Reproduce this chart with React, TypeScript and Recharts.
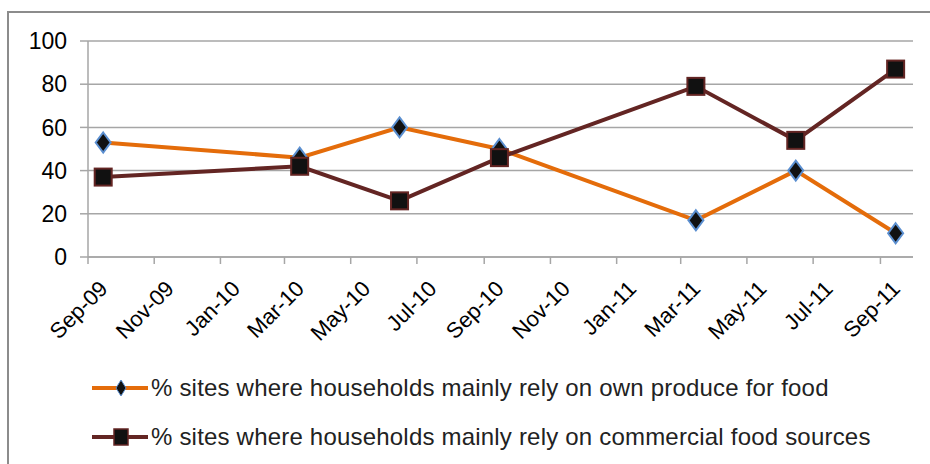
import { CartesianGrid, Line, LineChart, XAxis, YAxis } from "recharts"

// survey rounds (mid-month) and tick months
const surveyDates = [
  "2009-09-15",
  "2010-03-15",
  "2010-06-15",
  "2010-09-15",
  "2011-03-15",
  "2011-06-15",
  "2011-09-15",
]
const ownProduce = [53, 46, 60, 50, 17, 40, 11]
const commercial = [37, 42, 26, 46, 79, 54, 87]

const tickDates = [
  "2009-09-01",
  "2009-11-01",
  "2010-01-01",
  "2010-03-01",
  "2010-05-01",
  "2010-07-01",
  "2010-09-01",
  "2010-11-01",
  "2011-01-01",
  "2011-03-01",
  "2011-05-01",
  "2011-07-01",
  "2011-09-01",
]
const tickLabels = [
  "Sep-09",
  "Nov-09",
  "Jan-10",
  "Mar-10",
  "May-10",
  "Jul-10",
  "Sep-10",
  "Nov-10",
  "Jan-11",
  "Mar-11",
  "May-11",
  "Jul-11",
  "Sep-11",
]
const yTicks = [0, 20, 40, 60, 80, 100]
const domainStart = "2009-09-01"
const domainEnd = "2011-10-01"

const ownLabel = "% sites where households mainly rely on own produce for food"
const commLabel = "% sites where households mainly rely on commercial food sources"

const ORANGE = "#E46C0A"
const BROWN = "#632523"
const GRID = "#a6a6a6"
const AXIS_FONT = "'Liberation Sans', Arial, sans-serif"

const data = surveyDates.map((d, i) => ({
  t: Date.parse(d),
  own: ownProduce[i],
  comm: commercial[i],
}))
const xTicks = tickDates.map((d) => Date.parse(d))
const labelFor = new Map(xTicks.map((t, i) => [t, tickLabels[i]]))

function Diamond({ cx, cy }: any) {
  if (cx == null || cy == null) return null
  return (
    <path
      d={`M${cx},${cy - 10} L${cx + 7.5},${cy} L${cx},${cy + 10} L${cx - 7.5},${cy} Z`}
      fill="#111"
      stroke="#5b8fd0"
      strokeWidth={2}
    />
  )
}

function Square({ cx, cy }: any) {
  if (cx == null || cy == null) return null
  return (
    <rect
      x={cx - 8.5}
      y={cy - 8.5}
      width={17}
      height={17}
      fill="#111"
      stroke={BROWN}
      strokeWidth={2}
    />
  )
}

function XTick({ x, payload }: any) {
  const ax = x + 21
  const ay = 290
  return (
    <text
      x={ax}
      y={ay}
      textAnchor="end"
      transform={`rotate(-45, ${ax}, ${ay})`}
      fontFamily={AXIS_FONT}
      fontSize={22}
      fill="#000"
    >
      {labelFor.get(payload.value)}
    </text>
  )
}

function YTick({ y, payload }: any) {
  return (
    <text
      x={67}
      y={y}
      dy="0.36em"
      textAnchor="end"
      fontFamily={AXIS_FONT}
      fontSize={23}
      fill="#000"
    >
      {payload.value}
    </text>
  )
}

function LegendRow({ color, label, square }: any) {
  return (
    <div style={{ display: "flex", alignItems: "center", height: 30 }}>
      <svg width={59} height={30} style={{ flex: "none" }}>
        <line x1={0} y1={15} x2={56} y2={15} stroke={color} strokeWidth={4} />
        {square ? (
          <rect x={22} y={7} width={14} height={16} fill="#111" stroke={BROWN} strokeWidth={1.5} />
        ) : (
          <path d="M29,7 L34,15 L29,23 L24,15 Z" fill="#111" stroke="#5b8fd0" strokeWidth={1} />
        )}
      </svg>
      <span style={{ whiteSpace: "nowrap" }}>{label}</span>
    </div>
  )
}

export default function App() {
  return (
    <div
      style={{
        position: "absolute",
        left: 0,
        top: 0,
        width: 930,
        height: 464,
        overflow: "hidden",
        background: "#fff",
      }}
    >
      <div
        style={{
          position: "absolute",
          left: 7,
          top: 11,
          width: 960,
          height: 500,
          border: "2px solid #8c8c8c",
        }}
      />
      <div style={{ position: "absolute", left: 0, top: 0 }}>
        <LineChart
          width={930}
          height={365}
          data={data}
          margin={{ top: 41, right: 17, left: 0, bottom: 0 }}
        >
          <CartesianGrid vertical={false} stroke={GRID} strokeWidth={1.5} />
          <XAxis
            dataKey="t"
            type="number"
            domain={[Date.parse(domainStart), Date.parse(domainEnd)]}
            ticks={xTicks}
            tick={<XTick />}
            tickLine={{ stroke: GRID, strokeWidth: 1.5 }}
            tickSize={7}
            axisLine={{ stroke: GRID, strokeWidth: 1.5 }}
            height={108}
            interval={0}
            allowDataOverflow
          />
          <YAxis
            domain={[0, 100]}
            ticks={yTicks}
            tick={<YTick />}
            tickLine={{ stroke: GRID, strokeWidth: 1.5 }}
            tickSize={8}
            axisLine={{ stroke: GRID, strokeWidth: 1.5 }}
            width={88}
            interval={0}
          />
          <Line
            dataKey="own"
            stroke={ORANGE}
            strokeWidth={4}
            dot={<Diamond />}
            isAnimationActive={false}
          />
          <Line
            dataKey="comm"
            stroke={BROWN}
            strokeWidth={4}
            dot={<Square />}
            isAnimationActive={false}
          />
        </LineChart>
      </div>
      <div
        style={{
          position: "absolute",
          left: 92,
          top: 373,
          fontFamily: AXIS_FONT,
          fontSize: 24,
          letterSpacing: 0.2,
          color: "#222",
          lineHeight: "30px",
        }}
      >
        <LegendRow color={ORANGE} label={ownLabel} />
        <div style={{ height: 19 }} />
        <LegendRow color={BROWN} label={commLabel} square />
      </div>
    </div>
  )
}
